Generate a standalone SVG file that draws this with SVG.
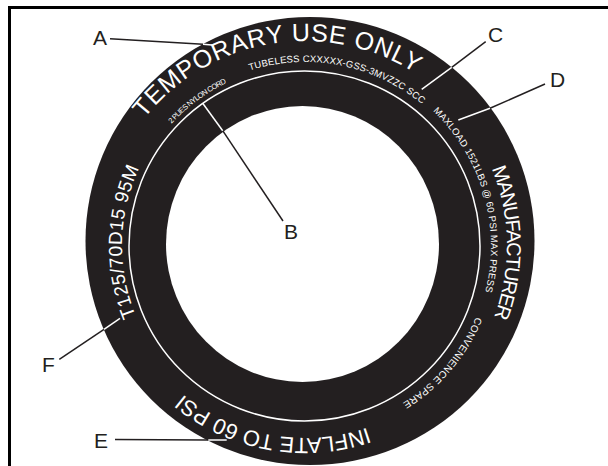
<svg xmlns="http://www.w3.org/2000/svg" width="608" height="466" viewBox="0 0 608 466">
<style>
text{font-family:"Liberation Sans",Arial,sans-serif}
.l{font-size:21px;fill:#231f20}
.w{fill:#fff}
.ln{stroke:#231f20;stroke-width:1.500;fill:none}
.lw{stroke:#fff;stroke-width:1.500;fill:none}
</style>
<defs>
<path id="p1" d="M144.300 118.700A205 205 0 0 1 482.500 143.500"/>
<path id="p2" d="M491.600 168.700A202 202 0 0 1 459.700 375.800"/>
<path id="p3" d="M475.900 316.800A185 185 0 0 1 337.100 428.200"/>
<path id="p4" d="M367.500 427.500A192 192 0 0 1 169.200 381.800"/>
<path id="p5" d="M135.900 316A183 183 0 0 1 164.800 128.400"/>
<path id="p6" d="M249.700 70.500A184 184 0 0 1 464.300 154"/>
<path id="p7" d="M171.500 123.700A181 181 0 0 1 243.100 76"/>
<path id="p8" d="M433 111.100A186 186 0 0 1 473.600 324.600"/>
</defs>
<rect width="608" height="466" fill="#fff"/>
<g id="frame"><path d="M9.500 466V7.500H608" fill="none" stroke="#000" stroke-width="3"/></g>
<g id="tire">
<ellipse cx="310" cy="241" rx="224.500" ry="224" fill="#231f20"/>
<ellipse cx="304.500" cy="246" rx="175.500" ry="175" class="lw"/>
<ellipse cx="302.500" cy="244" rx="136.500" ry="138" fill="#fff"/>
<text class="w" font-size="25"><textPath href="#p1" textLength="301" lengthAdjust="spacing">TEMPORARY USE ONLY</textPath></text>
<text class="w" font-size="20"><textPath href="#p2" textLength="152" lengthAdjust="spacing">MANUFACTURER</textPath></text>
<text class="w" font-size="10"><textPath href="#p3" textLength="115" lengthAdjust="spacing">CONVENIENCE SPARE</textPath></text>
<text class="w" font-size="22"><textPath href="#p4" textLength="196" lengthAdjust="spacing">INFLATE TO 60 PSI</textPath></text>
<text class="w" font-size="19"><textPath href="#p5" textLength="152" lengthAdjust="spacing">T125/70D15 95M</textPath></text>
<text class="w" font-size="9.500"><textPath href="#p6" textLength="183" lengthAdjust="spacing">TUBELESS CXXXXX-GSS-3MVZZC SCC</textPath></text>
<text class="w" font-size="7.500"><textPath href="#p7" textLength="69" lengthAdjust="spacing">2 PLIES NYLON CORD</textPath></text>
<text class="w" font-size="9.500"><textPath href="#p8" textLength="197" lengthAdjust="spacing">MAXLOAD 1521LBS @ 60 PSI MAX PRESS</textPath></text>
</g>
<g id="connectors">
<path class="ln" d="M110 38.700L203 44.300"/><path class="lw" d="M203 44.300L212 45"/>
<path class="ln" d="M283 221L222.700 130.700"/><path class="lw" d="M222.700 130.700L202.700 103.300"/>
<path class="ln" d="M485.700 41.700L451.700 67.300"/><path class="lw" d="M451.700 67.300L421.700 89.300"/>
<path class="ln" d="M545 84L490 108.300"/><path class="lw" d="M490 108.300L458.300 120"/>
<path class="ln" d="M115 439.500L208.300 440"/><path class="lw" d="M208.300 440L226.700 440"/>
<path class="ln" d="M59.300 359.300L104 329.300"/><path class="lw" d="M104 329.300L120 318.300"/>
</g>
<g id="label-a"><text class="l" x="93" y="45">A</text></g>
<g id="label-b"><text class="l" x="284" y="239">B</text></g>
<g id="label-c"><text class="l" x="488" y="41.500">C</text></g>
<g id="label-d"><text class="l" x="550" y="86.500">D</text></g>
<g id="label-e"><text class="l" x="94" y="448">E</text></g>
<g id="label-f"><text class="l" x="42" y="372">F</text></g>
</svg>
